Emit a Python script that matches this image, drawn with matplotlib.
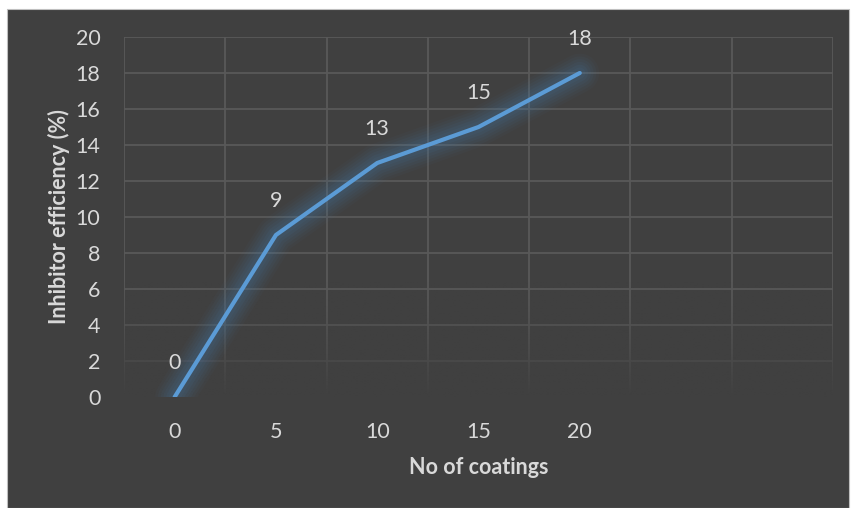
import numpy as np
import matplotlib
matplotlib.use("Agg")
import matplotlib.pyplot as plt
from matplotlib.patches import Rectangle

# --- data ---
categories = ["0", "5", "10", "15", "20", "", ""]
coatings = [0, 5, 10, 15, 20]
efficiency = [0, 9, 13, 15, 18]

BG = "#404040"
GRID = "#595959"
TEXT = "#d9d9d9"
LINE = "#5b9bd5"
GLOW = "#4a7fb0"
FS = 15.5

plt.rcParams["font.family"] = ["Lato", "DejaVu Sans"]

W, H = 851, 508
fig = plt.figure(figsize=(W / 100, H / 100), dpi=100, facecolor="white")

# dark chart panel with a thin white margin top/left
fig.patches.append(Rectangle((7 / W, 0), (849 - 7) / W, (H - 9) / H,
                             transform=fig.transFigure, facecolor=BG,
                             edgecolor="#bfbfbf", lw=0.8, zorder=-1))

left, right, top, bottom = 124, 833, 37, 397
ax = fig.add_axes([left / W, 1 - bottom / H, (right - left) / W, (bottom - top) / H])
ax.set_zorder(1)
ax.set_facecolor(BG)
for s in ax.spines.values():
    s.set_visible(False)

x = np.arange(len(efficiency))
ax.set_xticks(np.arange(len(categories)))
ax.set_xticklabels(categories)
ax.set_yticks(np.arange(0, 21, 2))

# gridlines: horizontal at each y tick, vertical between categories
for yv in np.arange(2, 21, 2):
    ax.axhline(yv, color=GRID, lw=1.3, zorder=0.5)
for xv in np.arange(-0.5, len(categories), 1.0):
    ax.axvline(xv, color=GRID, lw=1.3, zorder=0.5)

# gridlines fade out towards the bottom
fade = np.zeros((200, 2, 4))
fade[..., :3] = matplotlib.colors.to_rgb(BG)
fade[..., 3] = np.linspace(0, 1, 200)[:, None] ** 1.3
ax.imshow(fade, extent=(-0.5, len(categories) - 0.5, 0, 6.5), origin="upper",
          aspect="auto", zorder=0.8, interpolation="bilinear")

# soft glow under the series line
for w, a in [(28, 0.04), (24, 0.05), (20, 0.06), (16, 0.07), (12, 0.08), (8, 0.08)]:
    ax.plot(x, efficiency, color=GLOW, lw=w, alpha=a, solid_capstyle="round",
            solid_joinstyle="round", zorder=2)
ax.plot(x, efficiency, color=LINE, lw=3, solid_capstyle="round",
        solid_joinstyle="round", zorder=3)

for xi, v in zip(x, efficiency):
    ax.annotate(str(v), (xi, v), xytext=(0, 17), textcoords="offset points",
                ha="center", va="bottom", color=TEXT, fontsize=FS, zorder=4)

ax.set_xlim(-0.5, len(categories) - 0.5)
ax.set_ylim(0, 20)

ax.tick_params(axis="both", length=0, colors=TEXT, labelsize=FS)
ax.tick_params(axis="x", pad=18)
ax.tick_params(axis="y", pad=17)

ax.set_xlabel("No of coatings", color=TEXT, fontsize=FS, fontweight="bold", labelpad=11)
ax.set_ylabel("Inhibitor efficiency (%)", color=TEXT, fontsize=FS, fontweight="bold", labelpad=4)

fig.savefig("out.png", dpi=100, facecolor="white")
